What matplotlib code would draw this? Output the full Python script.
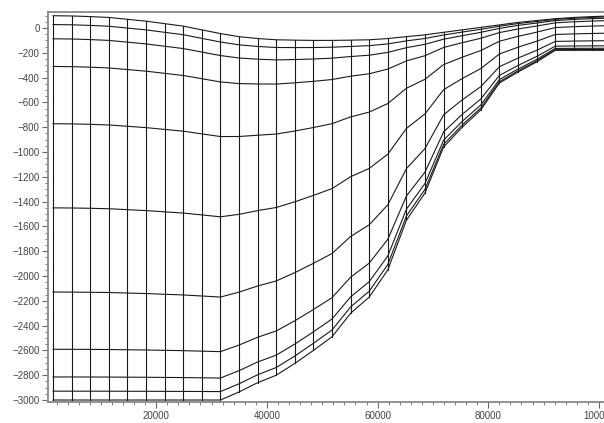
import numpy as np
import matplotlib
matplotlib.use("Agg")
import matplotlib.pyplot as plt
from matplotlib.ticker import MultipleLocator

# Grid node positions along the section (m)
x_nodes = [1370, 4730, 8090, 11450, 14810, 18170, 21530, 24890, 28250, 31610,
           34970, 38330, 41690, 45050, 48410, 51770, 55130, 58490, 61850, 65210,
           68570, 71930, 75290, 78650, 82010, 85370, 88730, 92090, 95450, 98810,
           102170]

# Bottom depth at each node (m)
bottom = [-3000, -3000, -3000, -3000, -3000, -3000, -3000, -3000, -3000, -3000,
          -2935, -2860, -2800, -2705, -2600, -2490, -2300, -2170, -1950, -1550,
          -1330, -960, -800, -660, -444, -355, -274, -180, -180, -180,
          -180]

# Top surface at each node (m)
surface = [99, 97, 92, 85, 70, 55, 35, 15, -15, -45,
           -70, -85, -95, -98, -100, -100, -98, -95, -85, -70,
           -55, -35, -15, 5, 25, 45, 60, 75, 85, 92,
           97]

# Vertical level fractions (0 = surface, 1 = bottom)
sigma = [0.0, 0.023, 0.06, 0.132, 0.281, 0.5, 0.719, 0.868, 0.94, 0.977, 1.0]

x = np.array(x_nodes, dtype=float)
h = np.array(bottom, dtype=float)
eta = np.array(surface, dtype=float)
s = np.array(sigma)

# depth of every level at every node
z = eta[None, :] + s[:, None] * (h - eta)[None, :]

plt.rcParams['font.family'] = ['Liberation Sans', 'DejaVu Sans']

fig = plt.figure(figsize=(6.04, 4.23), dpi=100)
ax = fig.add_axes([48 / 604, 21 / 423, 1 - 48 / 604 + 0.01, 390 / 423])

line_kw = dict(color='#1a1a1a', lw=0.8)
# horizontal (level) lines
for row in z:
    ax.plot(x, row, **line_kw)
# vertical lines at every node
for i in range(len(x)):
    ax.plot([x[i], x[i]], [z[0, i], z[-1, i]], **line_kw)

ax.set_xlim(450, 102000)
ax.set_ylim(-3016, 129)

ax.xaxis.set_major_locator(MultipleLocator(20000))
ax.xaxis.set_minor_locator(MultipleLocator(2000))
ax.yaxis.set_major_locator(MultipleLocator(200))
ax.yaxis.set_minor_locator(MultipleLocator(50))

ax.tick_params(which='major', length=4, width=0.8, color='#666', labelsize=7,
               labelcolor='#444')
ax.tick_params(which='minor', length=2.5, width=0.6, color='#666')
ax.tick_params(axis='x', which='major', pad=2.5)
ax.tick_params(axis='y', which='major', pad=2)

for side in ['top', 'left', 'bottom']:
    ax.spines[side].set_color('#888')
    ax.spines[side].set_linewidth(1.3)
ax.spines['right'].set_visible(False)

fig.savefig('out.png', dpi=100)
